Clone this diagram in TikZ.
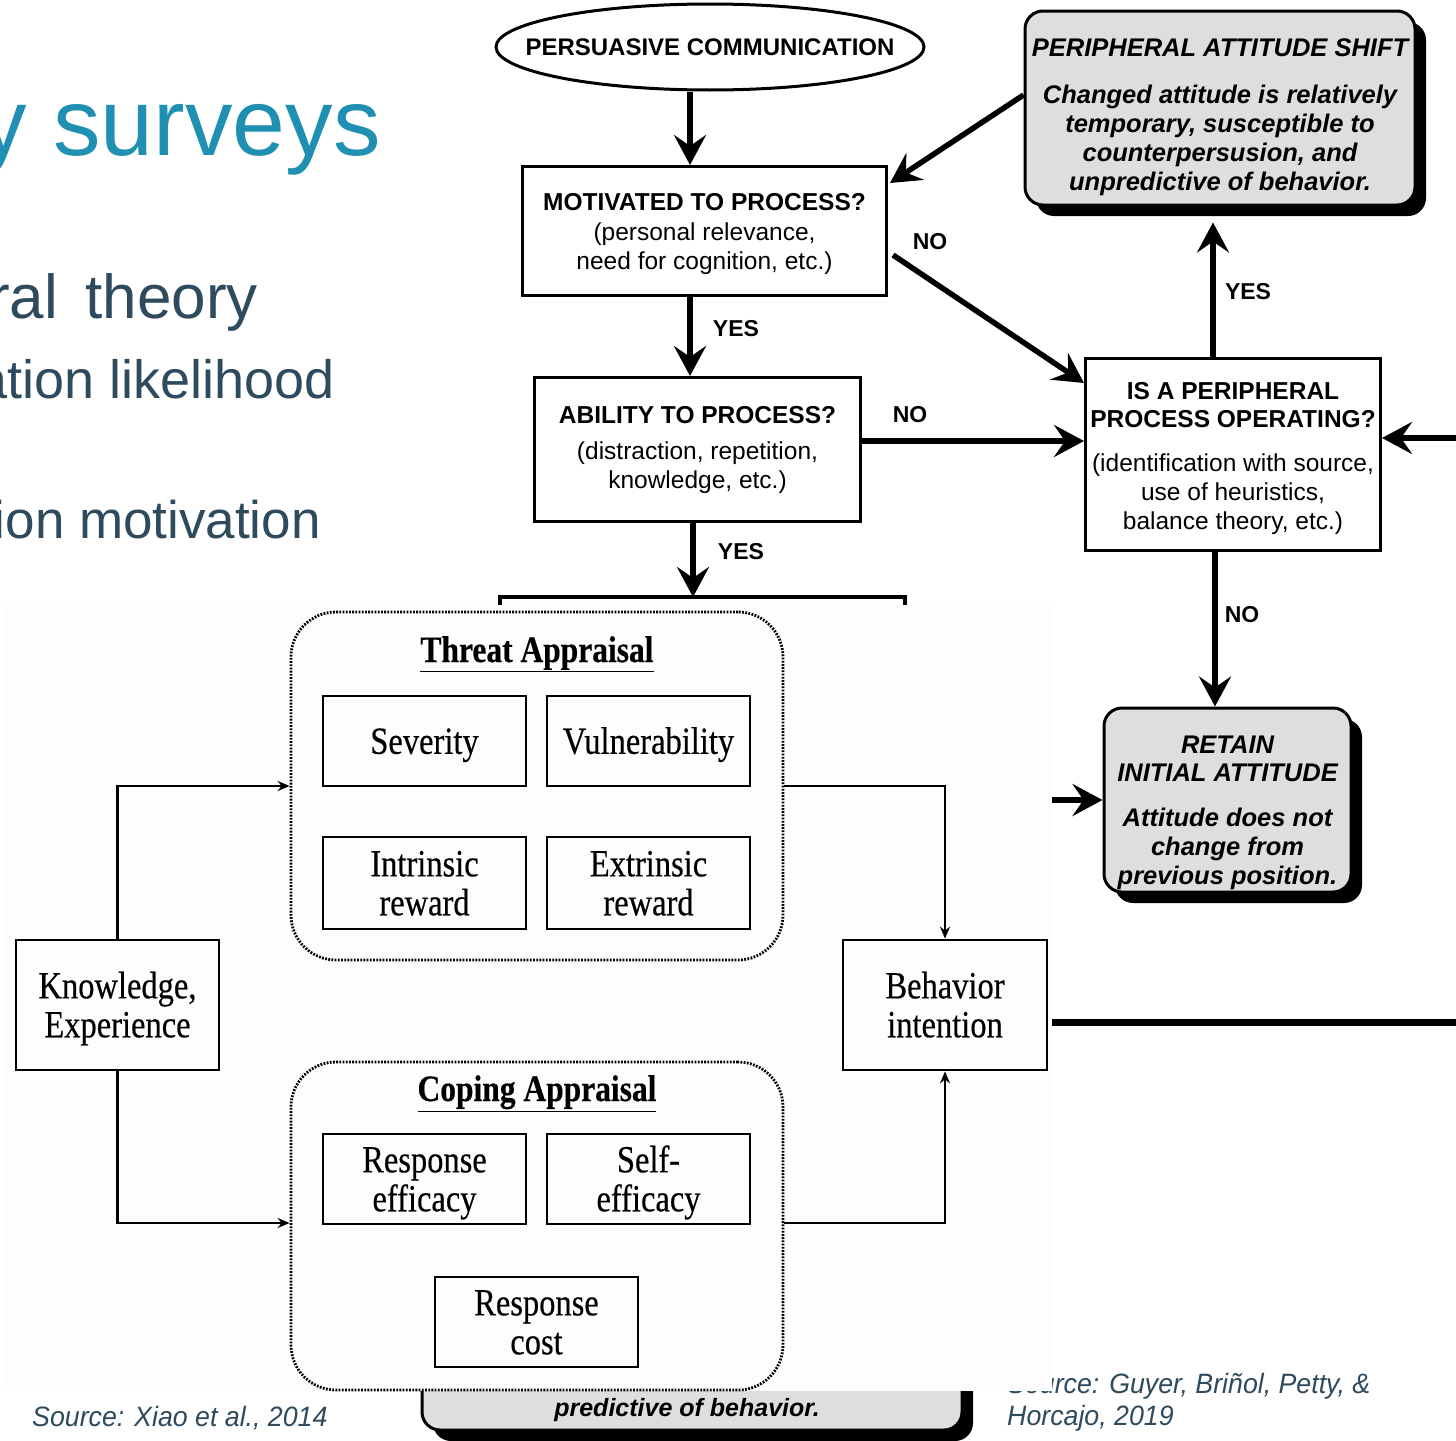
\documentclass[tikz,border=0pt]{standalone}
\usepackage{fontspec}
\usepackage{graphicx}
\setmainfont{Liberation Sans}
\newfontfamily\serifpmt[FakeBold=0.4]{Liberation Serif}
\usetikzlibrary{arrows.meta,shapes.geometric,shadows}
\definecolor{titleblue}{HTML}{1F8FB2}
\definecolor{slatetext}{HTML}{2E4A5D}
\definecolor{boxgray}{HTML}{DEDEDE}
\definecolor{panelbg}{HTML}{FDFDFD}
% serif label lines, slightly stretched vertically and set a little low
\newcommand{\pmtlines}[1]{\raisebox{-5pt}[\height][\depth]{\scalebox{1}[1.18]{\begin{tabular}{@{}c@{}}#1\end{tabular}}}}
\newcommand{\pmthead}[1]{\scalebox{1}[1.18]{\bfseries\underline{#1}}}
\newcommand{\topgap}[1]{\rule{0pt}{#1}}
\newcommand{\narrow}[1]{\scalebox{0.955}[1]{#1}}

\begin{document}
\begin{tikzpicture}[x=1pt,y=-1pt,
  elmtext/.style={font=\fontsize{24.5}{29}\selectfont, align=center, inner sep=0pt},
  elmbox/.style={draw, line width=3pt, elmtext},
  resultbox/.style={draw, line width=3pt, rounded corners=18pt, fill=boxgray,
    align=center, inner sep=0pt,
    font=\fontsize{25.5}{29}\selectfont\bfseries\itshape,
    drop shadow={shadow xshift=11pt, shadow yshift=-11pt, fill=black, opacity=1}},
  bigarrow/.style={line width=5.5pt, -{Stealth[length=30pt,width=32pt,inset=11pt]}},
  elmlabel/.style={font=\fontsize{23}{23}\selectfont\bfseries, inner sep=0pt},
  pmtbox/.style={draw, line width=2.8pt, inner sep=0pt,
    font=\serifpmt\fontsize{32.5}{33}\selectfont},
  pmtframe/.style={draw, line width=2.8pt, dash pattern=on 1.8pt off 1.4pt,
    rounded corners=45pt, inner sep=0pt},
  pmtarrow/.style={line width=2.6pt, -{Stealth[length=12pt,width=10pt,inset=4pt]}},
  sourcetext/.style={font=\fontsize{28}{28}\selectfont\itshape, text=slatetext,
    inner sep=0pt, anchor=base west}
]
\useasboundingbox (0,0) rectangle (1456,1440);
\clip (0,0) rectangle (1456,1440);
\fill[white] (0,0) rectangle (1456,1440);

% ---------- slide text ----------
\node[anchor=base east, inner sep=0pt, text=titleblue,
  font=\fontsize{95}{100}\selectfont] (title) at (381,155) {y surveys};
\node[anchor=base east, inner sep=0pt, text=slatetext,
  font=\fontsize{62}{66}\selectfont] (b1) at (258,318) {ral\,\ theory};
\node[anchor=base east, inner sep=0pt, text=slatetext,
  font=\fontsize{54}{58}\selectfont] (b2) at (335,398) {ation likelihood};
\node[anchor=base east, inner sep=0pt, text=slatetext,
  font=\fontsize{53}{57}\selectfont] (b3) at (321,538) {ion motivation};

% ---------- elaboration likelihood flowchart ----------
\node[draw, ellipse, line width=3pt, minimum width=428pt, minimum height=86pt,
  inner xsep=-36pt, inner ysep=0pt, font=\fontsize{24}{28}\selectfont\bfseries] (pc) at (710,47)
  {PERSUASIVE COMMUNICATION};

\node[elmbox, minimum width=364pt, minimum height=129pt] (mot) at (704.5,231)
  {\topgap{23.5pt}\textbf{MOTIVATED TO PROCESS?}\\[1pt]
   (personal relevance,\\ need for cognition, etc.)};

\node[elmbox, minimum width=326pt, minimum height=144pt] (abil) at (697.5,449.5)
  {\textbf{ABILITY TO PROCESS?}\\[7pt]
   (distraction, repetition,\\ knowledge, etc.)};

\node[elmbox, minimum width=295pt, minimum height=192pt] (peri) at (1233,454.5)
  {\topgap{25.5pt}\textbf{IS A PERIPHERAL}\\[-1pt]
   \textbf{PROCESS OPERATING?}\\[15pt]
   (identification with source,\\ use of heuristics,\\ balance theory, etc.)};

\node[resultbox, minimum width=390pt, minimum height=194pt] (shift) at (1220,108)
  {\topgap{35.5pt}PERIPHERAL ATTITUDE SHIFT\\[18pt]
   Changed attitude is relatively\\ temporary, susceptible to\\
   counterpersusion, and\\ unpredictive of behavior.};

\node[resultbox, minimum width=247pt, minimum height=184pt] (retain) at (1227.5,800)
  {\topgap{43.5pt}RETAIN\\[-1pt] INITIAL ATTITUDE\\[16pt]
   Attitude does not\\ change from\\ previous position.};

\node[resultbox, minimum width=540pt, minimum height=150pt] (central) at (692,1355) {};
\node[inner sep=0pt, font=\fontsize{25}{29}\selectfont\bfseries\itshape]
  (centraltext) at (687,1410) {predictive of behavior.};

% outer ends of the connectors
\coordinate (brL) at (500,620);
\coordinate (brR) at (905,620);
\coordinate (brM) at (693,597);
\coordinate (rin) at (1475,438);
\coordinate (retin) at (1000,800);
\coordinate (outA) at (1000,1022);
\coordinate (outB) at (1475,1022);

% connectors
\draw[bigarrow] ([xshift=-20pt]pc.south) -- ([xshift=-14.5pt]mot.north);
\draw[bigarrow] ([xshift=-14.5pt]mot.south) -- ([xshift=-7.5pt]abil.north);
\draw[bigarrow] ([xshift=-4.5pt]abil.south) -- (brM);
\draw[line width=4pt] (brL) -- (brL |- brM) -- (brR |- brM) -- (brR);
\draw[bigarrow] ([shift={(5pt,-24pt)}]mot.east) -- ([yshift=-26pt]peri.north west);
\draw[bigarrow] ([yshift=8.5pt]abil.east) -- ([yshift=8.5pt]abil.east -| peri.west);
\draw[bigarrow] (rin) -- (rin -| peri.east);
\draw[bigarrow, shorten >=16pt] ([xshift=-20pt]peri.north) -- ([xshift=-20pt]peri.north |- shift.south);
\draw[bigarrow] ([xshift=-18pt]peri.south) -- ([xshift=-18pt]peri.south |- retain.north);
\draw[bigarrow] ([yshift=13pt]shift.west) -- ([shift={(2pt,-18pt)}]mot.north east);
\draw[bigarrow] (retin) -- (retain.west);
\draw[line width=7pt] (outA) -- (outB);

% branch labels
\node[elmlabel] (no1) at (930,242) {NO};
\node[elmlabel] (yes1) at (736,329) {YES};
\node[elmlabel] (no2) at (910,415) {NO};
\node[elmlabel] (yes2) at (741,552) {YES};
\node[elmlabel] (yes3) at (1248,292) {YES};
\node[elmlabel] (no3) at (1242,615) {NO};

% ---------- sources ----------
\node[sourcetext] (srcA) at (32,1426) {\narrow{Source: Xiao et al., 2014}};
\node[sourcetext] (srcB) at (1007,1393) {\narrow{Source: Guyer, Briñol, Petty, \&}};
\node[sourcetext] (srcC) at (1007,1425) {\narrow{Horcajo, 2019}};

% ---------- protection motivation model ----------
\fill[panelbg] (4,605) rectangle (1052,1391);

\node[pmtframe, minimum width=492pt, minimum height=348pt] (threat) at (537,786) {};
\node[pmtframe, minimum width=492pt, minimum height=328pt] (coping) at (537,1226) {};

\node[anchor=base, inner sep=0pt, font=\serifpmt\fontsize{31.5}{33}\selectfont]
  (threathead) at (537,662) {\pmthead{Threat Appraisal}};
\node[anchor=base, inner sep=0pt, font=\serifpmt\fontsize{31.5}{33}\selectfont]
  (copinghead) at (537,1101) {\pmthead{Coping Appraisal}};

\node[pmtbox, minimum width=203pt, minimum height=90pt] (sev) at (424.5,741) {\pmtlines{Severity}};
\node[pmtbox, minimum width=203pt, minimum height=90pt] (vul) at (648.5,741) {\pmtlines{Vulnerability}};
\node[pmtbox, minimum width=203pt, minimum height=92pt] (intr) at (424.5,883) {\pmtlines{Intrinsic\\reward}};
\node[pmtbox, minimum width=203pt, minimum height=92pt] (extr) at (648.5,883) {\pmtlines{Extrinsic\\reward}};
\node[pmtbox, minimum width=203pt, minimum height=90pt] (reff) at (424.5,1179) {\pmtlines{Response\\efficacy}};
\node[pmtbox, minimum width=203pt, minimum height=90pt] (seff) at (648.5,1179) {\pmtlines{Self-\\efficacy}};
\node[pmtbox, minimum width=203pt, minimum height=90pt] (rcost) at (536.5,1322) {\pmtlines{Response\\cost}};

\node[pmtbox, minimum width=203pt, minimum height=130pt] (know) at (117.5,1005) {\pmtlines{Knowledge,\\Experience}};
\node[pmtbox, minimum width=204pt, minimum height=130pt] (beh) at (945,1005) {\pmtlines{Behavior\\intention}};

\draw[pmtarrow] (know.north) |- (threat.west);
\draw[pmtarrow] (know.south) |- ([yshift=3pt]coping.west);
\draw[pmtarrow] (threat.east) -| (beh.north);
\draw[pmtarrow] ([yshift=3pt]coping.east) -| (beh.south);
\end{tikzpicture}
\end{document}
